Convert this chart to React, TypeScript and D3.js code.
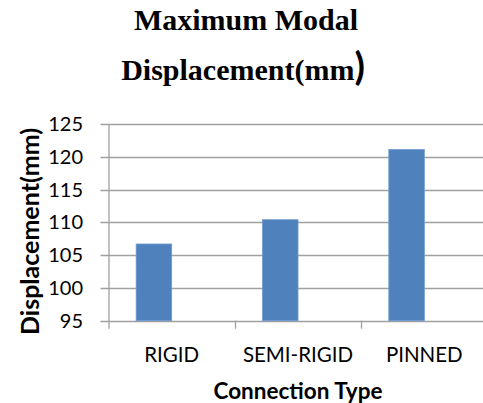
import * as d3 from "d3";
import { useEffect, useRef } from "react";

const categories = ["RIGID", "SEMI-RIGID", "PINNED"];
const displacement = [106.7, 110.4, 121.1];
const yTicks = [95, 100, 105, 110, 115, 120, 125];

const W = 483;
const H = 403;

const App = () => {
  const ref = useRef<SVGSVGElement>(null);

  useEffect(() => {
    const svg = d3.select(ref.current);
    svg.selectAll("*").remove();

    const left = 108.5;
    const right = 487.5;
    const top = 124;
    const bottom = 320.7;
    const sans = "Lato, 'Open Sans', sans-serif";

    const x = d3.scaleBand().domain(categories).range([left, right]);
    const y = d3.scaleLinear().domain([95, 125]).range([bottom, top]);

    // title
    const title = svg.append("text")
      .attr("text-anchor", "middle")
      .attr("font-family", "'Liberation Serif', 'Times New Roman', serif")
      .attr("font-weight", "bold")
      .attr("font-size", 30)
      .attr("fill", "#000");
    title.append("tspan").attr("x", 246).attr("y", 30).text("Maximum Modal");
    const l2 = title.append("tspan").attr("x", 243).attr("y", 80);
    l2.append("tspan").text("Displacement(mm");
    l2.append("tspan").attr("font-family", sans).attr("font-size", 38).text(")");

    // gridlines
    svg.append("g")
      .selectAll("line")
      .data(yTicks)
      .join("line")
      .attr("x1", left - 8)
      .attr("x2", right)
      .attr("y1", (d) => Math.round(y(d)) + 0.5)
      .attr("y2", (d) => Math.round(y(d)) + 0.5)
      .attr("stroke", "#a0a0a0")
      .attr("stroke-width", 1.3);

    // y axis line
    svg.append("line")
      .attr("x1", left + 0.5).attr("x2", left + 0.5)
      .attr("y1", top).attr("y2", bottom + 8)
      .attr("stroke", "#a0a0a0").attr("stroke-width", 1.3);

    // x category ticks
    svg.append("g")
      .selectAll("line")
      .data(categories.slice(1))
      .join("line")
      .attr("x1", (d) => Math.round(x(d)!) + 0.5)
      .attr("x2", (d) => Math.round(x(d)!) + 0.5)
      .attr("y1", bottom)
      .attr("y2", bottom + 8)
      .attr("stroke", "#a0a0a0")
      .attr("stroke-width", 1.3);

    // bars (first of two clustered slots; second series is empty)
    const bw = 35.5;
    svg.append("g")
      .selectAll("rect")
      .data(categories)
      .join("rect")
      .attr("x", (d) => x(d)! + x.bandwidth() / 2 - bw)
      .attr("y", (d, i) => y(displacement[i]))
      .attr("width", bw)
      .attr("height", (d, i) => bottom - y(displacement[i]))
      .attr("fill", "#4f81bd")
      .attr("stroke", "#6d9ad0")
      .attr("stroke-width", 0.8);

    // y tick labels
    svg.append("g")
      .selectAll("text")
      .data(yTicks)
      .join("text")
      .attr("x", 83)
      .attr("y", (d) => y(d))
      .attr("dy", "0.35em")
      .attr("text-anchor", "end")
      .attr("font-family", sans)
      .attr("font-size", 20)
      .attr("fill", "#000")
      .text((d) => d);

    // x tick labels
    svg.append("g")
      .selectAll("text")
      .data(categories)
      .join("text")
      .attr("x", (d) => x(d)! + x.bandwidth() / 2)
      .attr("y", 355)
      .attr("dy", "0.35em")
      .attr("text-anchor", "middle")
      .attr("font-family", sans)
      .attr("font-size", 20.5)
      .attr("fill", "#000")
      .text((d) => d);

    // axis titles
    svg.append("text")
      .attr("x", 298)
      .attr("y", 399)
      .attr("text-anchor", "middle")
      .attr("font-family", sans)
      .attr("font-weight", "bold")
      .attr("font-size", 22.5)
      .text("Connection Type");

    svg.append("text")
      .attr("transform", "translate(30,231.5) rotate(-90)")
      .attr("dy", "0.35em")
      .attr("text-anchor", "middle")
      .attr("font-family", sans)
      .attr("font-weight", "bold")
      .attr("font-size", 25)
      .text("Displacement(mm)");
  }, []);

  return (
    <svg
      ref={ref}
      width={W}
      height={H}
      style={{ position: "absolute", left: 0, top: 0, background: "#fff" }}
    />
  );
};

export default App;
